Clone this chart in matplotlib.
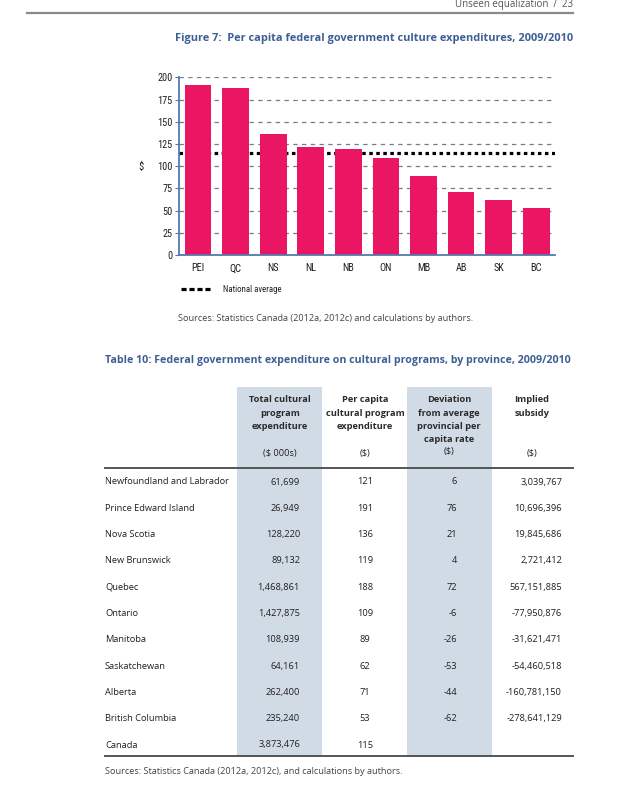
import matplotlib
matplotlib.use("Agg")
import matplotlib.pyplot as plt
from matplotlib.patches import Rectangle
from matplotlib.lines import Line2D
from matplotlib import font_manager as fm

# ---------------- data ----------------
chart_provinces = ['PEI', 'QC', 'NS', 'NL', 'NB', 'ON', 'MB', 'AB', 'SK', 'BC']
chart_per_capita = [191, 188, 136, 121, 119, 109, 89, 71, 62, 53]
national_average = 115
y_ticks = [0, 25, 50, 75, 100, 125, 150, 175, 200]

table_rows = ['Newfoundland and Labrador', 'Prince Edward Island', 'Nova Scotia',
              'New Brunswick', 'Quebec', 'Ontario', 'Manitoba', 'Saskatchewan',
              'Alberta', 'British Columbia', 'Canada']
total_expenditure = [61699, 26949, 128220, 89132, 1468861, 1427875, 108939,
                     64161, 262400, 235240, 3873476]
per_capita_expenditure = [121, 191, 136, 119, 188, 109, 89, 62, 71, 53, 115]
deviation = [6, 76, 21, 4, 72, -6, -26, -53, -44, -62, None]
implied_subsidy = [3039767, 10696396, 19845686, 2721412, 567151885, -77950876,
                   -31621471, -54460518, -160781150, -278641129, None]

col_headers = [['Total cultural', 'program', 'expenditure'],
               ['Per capita', 'cultural program', 'expenditure'],
               ['Deviation', 'from average', 'provincial per', 'capita rate'],
               ['Implied', 'subsidy']]
col_units = ['($ 000s)', '($)', '($)', '($)']

# ---------------- fonts ----------------
_fonts = fm.fontManager.ttflist
_names = {f.name for f in _fonts}
NARROW_PROPS = None
for cand in ['Liberation Sans Narrow', 'Roboto Condensed', 'Open Sans Condensed',
             'Noto Sans Condensed', 'DejaVu Sans Condensed', 'Arial Narrow']:
    if cand in _names:
        NARROW_PROPS = dict(family=cand, size_scale=1.0)
        break
if NARROW_PROPS is None:
    cond = [f for f in _fonts if str(f.stretch).lower() in ('condensed', 'semi-condensed', 'extra-condensed')
            or (isinstance(f.stretch, int) and f.stretch < 500)]
    if cond:
        NARROW_PROPS = dict(family=cond[0].name, stretch=cond[0].stretch, size_scale=1.0)
    else:
        NARROW_PROPS = dict(family='Roboto', size_scale=0.8)


def narrow(size):
    d = dict(family=NARROW_PROPS['family'], fontsize=size * NARROW_PROPS['size_scale'])
    if 'stretch' in NARROW_PROPS:
        d['fontstretch'] = NARROW_PROPS['stretch']
    return d

# ---------------- figure ----------------
W, H = 623, 801
fig = plt.figure(figsize=(W / 100, H / 100), dpi=100)
fig.patch.set_facecolor('white')


def fx(x):
    return x / W


def fy(y):
    return 1 - y / H


BLUE_TITLE = '#3d5f94'
PINK = '#ea1563'
SPINE = '#5578b0'
SHADE = '#d1dbe6'
TXT = '#231f20'
BODY = 'Open Sans'
FS = 6.7

# page header
fig.text(fx(573), fy(5), 'Unseen equalization  /  23', ha='right', va='center',
         fontsize=7, color='#555555', family=BODY)
fig.add_artist(Line2D([fx(27), fx(573)], [fy(13), fy(13)], color='#8a8a8a', lw=1.6))

# figure title
fig.text(fx(573), fy(38), 'Figure 7:  Per capita federal government culture expenditures, 2009/2010',
         ha='right', va='center', fontsize=7.9, color=BLUE_TITLE, family=BODY, weight='bold')

# chart
ax = fig.add_axes([fx(179.3), fy(255), fx(555) - fx(179.3), fy(77.3) - fy(255)])
x = range(len(chart_provinces))
ax.bar(x, chart_per_capita, width=0.71, color=PINK, zorder=3)
ax.axhline(national_average, color='black', lw=2.3, linestyle=(0, (1.1, 1.1)), zorder=2)
ax.set_xlim(-0.5, 9.5)
ax.set_ylim(0, 200)
ax.set_yticks(y_ticks)
ax.set_xticks(list(x))
ax.set_xticklabels(chart_provinces)
nprops = narrow(7.4)
for t in ax.get_xticklabels() + ax.get_yticklabels():
    t.set_family(nprops['family'])
    t.set_fontsize(nprops['fontsize'])
    if 'fontstretch' in nprops:
        t.set_stretch(nprops['fontstretch'])
    t.set_color(TXT)
ax.tick_params(axis='x', length=0, pad=6)
ax.tick_params(axis='y', length=3, width=0.8, color=SPINE, pad=2)
ax.yaxis.grid(True, color='#6f7d91', lw=0.9, linestyle=(0, (3.5, 3.5)), zorder=1)
ax.set_axisbelow(True)
for s in ['top', 'right']:
    ax.spines[s].set_visible(False)
for s in ['left', 'bottom']:
    ax.spines[s].set_color(SPINE)
    ax.spines[s].set_linewidth(1.3)
ax.spines['bottom'].set_zorder(4)
fig.text(fx(141), fy(167), '$', ha='center', va='center', color=TXT, **narrow(7.6))

# legend
fig.add_artist(Line2D([fx(181), fx(211)], [fy(289), fy(289)], color='black', lw=2.3,
                      linestyle=(0, (1.6, 0.9))))
fig.text(fx(223), fy(289), 'National average', ha='left', va='center', color=TXT, **narrow(6.3))

fig.text(fx(178), fy(318), 'Sources: Statistics Canada (2012a, 2012c) and calculations by authors.',
         ha='left', va='center', fontsize=6.6, family=BODY, color='#444444')

# table title
fig.text(fx(105), fy(361), 'Table 10: Federal government expenditure on cultural programs, by province, 2009/2010',
         ha='left', va='center', fontsize=7.67, color=BLUE_TITLE, family=BODY, weight='bold')

# shaded columns
for x0, x1 in [(237, 322), (407, 492)]:
    fig.add_artist(Rectangle((fx(x0), fy(756)), fx(x1) - fx(x0), fy(387) - fy(756),
                             facecolor=SHADE, edgecolor='none', zorder=0))

# headers
col_centers = [280, 365, 449, 532]
header_line_y = [400, 413, 426.5, 439.5]
unit_y = [453, 453, 451, 453]
for cx, head, unit, uy in zip(col_centers, col_headers, col_units, unit_y):
    for ln, ly in zip(head, header_line_y):
        fig.text(fx(cx), fy(ly), ln, ha='center', va='center', fontsize=6.7, family=BODY,
                 weight='bold', color='#2b2b2b')
    fig.text(fx(cx), fy(uy), unit, ha='center', va='center', fontsize=FS, family=BODY, color=TXT)

fig.add_artist(Line2D([fx(105), fx(573)], [fy(468), fy(468)], color='#555555', lw=1.4))
fig.add_artist(Line2D([fx(105), fx(573)], [fy(756), fy(756)], color='#555555', lw=1.4))

# rows
for i, name in enumerate(table_rows):
    y = 482 + i * 26.3
    fig.text(fx(105), fy(y), name, ha='left', va='center', fontsize=FS, family=BODY, color=TXT)
    fig.text(fx(300), fy(y), f'{total_expenditure[i]:,}', ha='right', va='center',
             fontsize=FS, family=BODY, color=TXT)
    fig.text(fx(365), fy(y), f'{per_capita_expenditure[i]}', ha='center', va='center',
             fontsize=FS, family=BODY, color=TXT)
    if deviation[i] is not None:
        fig.text(fx(457), fy(y), f'{deviation[i]}', ha='right', va='center',
                 fontsize=FS, family=BODY, color=TXT)
    if implied_subsidy[i] is not None:
        fig.text(fx(562), fy(y), f'{implied_subsidy[i]:,}', ha='right', va='center',
                 fontsize=FS, family=BODY, color=TXT)

fig.text(fx(105), fy(772), 'Sources: Statistics Canada (2012a, 2012c), and calculations by authors.',
         ha='left', va='center', fontsize=6.6, family=BODY, color='#444444')

fig.savefig('out.png', dpi=100)
